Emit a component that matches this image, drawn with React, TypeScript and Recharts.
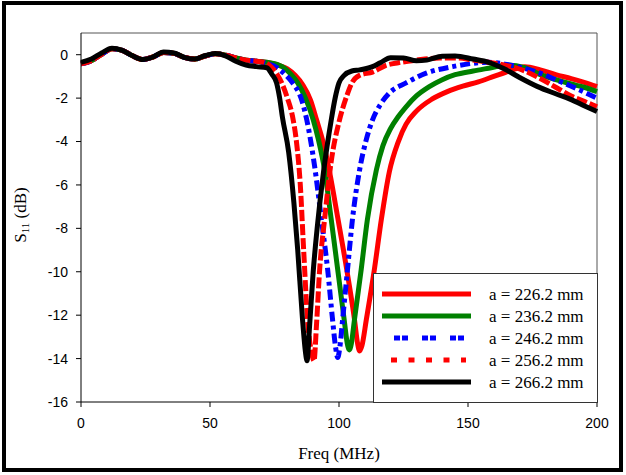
import React from "react";
import { LineChart, Line, XAxis, YAxis, ReferenceLine } from "recharts";

// shared low-frequency ripple (same for the first four curves)
const rippleFreq = [0, 4, 8, 12, 16, 20, 24, 28, 32, 36, 40, 44, 48, 52, 56, 60, 64];
const rippleS11 = [-0.42, -0.28, 0.02, 0.27, 0.2, -0.05, -0.22, -0.1, 0.1, 0.06, -0.12, -0.2, -0.06, 0.04, -0.02, -0.15, -0.25];

// a = 226.2 mm
const freq226 = [68, 72, 77, 80, 83, 86, 89, 91.3, 94, 96.5, 99.5, 103, 106, 107.2, 108, 108.9, 110.6, 113.7, 116.4, 119.5, 123, 126, 130, 136, 142, 148, 154, 160, 166, 172, 178, 184, 190, 195, 200];
const s11_226 = [-0.3, -0.36, -0.5, -0.65, -0.95, -1.4, -2.1, -3.0, -4.1, -5.5, -7.5, -9.9, -12.2, -13.3, -13.65, -13.4, -12.2, -9.9, -7.6, -5.4, -4.0, -3.2, -2.6, -2.05, -1.7, -1.45, -1.25, -1.0, -0.75, -0.55, -0.7, -0.92, -1.1, -1.27, -1.47];

// a = 236.2 mm
const freq236 = [68, 72, 76, 78, 81, 84, 87, 90, 92, 94.4, 97, 99.5, 102, 103.2, 104, 104.8, 106, 108.6, 111, 114.5, 117, 120, 123, 126, 130, 135, 140, 145, 152, 159, 165, 172, 178, 184, 190, 195, 200];
const s11_236 = [-0.3, -0.35, -0.45, -0.55, -0.85, -1.3, -2.0, -3.0, -3.9, -5.3, -7.6, -9.9, -12.2, -13.3, -13.6, -13.3, -12.2, -9.9, -7.6, -5.3, -4.2, -3.4, -2.85, -2.4, -1.9, -1.47, -1.15, -0.92, -0.75, -0.6, -0.47, -0.6, -0.92, -1.15, -1.35, -1.5, -1.7];

// a = 246.2 mm
const freq246 = [68, 72, 76, 79, 82, 85.5, 87.5, 90.5, 93.2, 95.6, 97.5, 98.7, 99.5, 100.3, 101.4, 103.3, 105.2, 108, 110.6, 113, 116, 119.5, 126, 133.8, 144, 151.6, 158, 165, 171, 178, 184, 190, 195, 200];
const s11_246 = [-0.3, -0.4, -0.6, -0.9, -1.3, -2.07, -3.0, -5.1, -7.6, -9.9, -12.2, -13.5, -13.95, -13.5, -12.2, -9.9, -7.6, -5.3, -3.9, -3.0, -2.3, -1.77, -1.3, -0.85, -0.55, -0.4, -0.35, -0.45, -0.6, -0.85, -1.15, -1.45, -1.72, -2.0];

// a = 256.2 mm
const freq256 = [68, 72, 74, 76, 78, 80, 82, 83.5, 85, 86.3, 87.8, 89.5, 90.3, 91.3, 92.5, 94.4, 97, 100, 103, 105, 108, 113, 118, 123, 130, 139, 146, 152, 158, 165, 172, 178, 184, 190, 195, 200];
const s11_256 = [-0.3, -0.4, -0.6, -0.9, -1.35, -2.0, -2.85, -4.0, -6.0, -9.0, -12.2, -13.8, -14.1, -12.4, -9.9, -7.6, -4.9, -3.1, -1.9, -1.3, -0.95, -0.8, -0.5, -0.37, -0.25, -0.15, -0.15, -0.25, -0.35, -0.5, -0.75, -1.1, -1.5, -1.9, -2.15, -2.4];

// a = 266.2 mm
const freq266 = [0, 4, 8, 12, 16, 20, 24, 28, 32, 36, 40, 44, 48, 52, 56, 60, 64, 68, 72, 74, 75.8, 77, 78.1, 80.5, 82.5, 84, 85.8, 87, 87.6, 88.6, 90, 91.7, 94, 97, 98.5, 100, 102, 105, 108, 113, 116, 120, 125, 130, 134, 140, 145, 152, 158, 164, 170, 177, 184, 190, 195, 200];
const s11_266 = [-0.35, -0.2, 0.08, 0.3, 0.2, -0.05, -0.22, -0.1, 0.12, 0.08, -0.12, -0.2, -0.05, 0.05, -0.05, -0.3, -0.48, -0.55, -0.6, -0.9, -1.3, -2.0, -2.9, -4.5, -6.8, -9.0, -12.1, -13.7, -14.1, -12.5, -10.0, -7.8, -5.4, -3.0, -2.0, -1.3, -0.95, -0.75, -0.7, -0.55, -0.37, -0.14, -0.15, -0.28, -0.25, -0.07, -0.06, -0.2, -0.35, -0.65, -1.05, -1.47, -1.8, -2.07, -2.35, -2.62];

const xTicks = [0, 50, 100, 150, 200];
const yTicks = [-16, -14, -12, -10, -8, -6, -4, -2, 0];
const legendLabels = ["a = 226.2 mm", "a = 236.2 mm", "a = 246.2 mm", "a = 256.2 mm", "a = 266.2 mm"];

const toPoints = (fs: number[], vs: number[]) => fs.map((f, i) => ({ f, v: vs[i] }));

const series = [
  { name: legendLabels[0], data: toPoints([...rippleFreq, ...freq226], [...rippleS11, ...s11_226]), color: "#ff0000", dash: undefined, legendDash: undefined },
  { name: legendLabels[1], data: toPoints([...rippleFreq, ...freq236], [...rippleS11, ...s11_236]), color: "#008000", dash: undefined, legendDash: undefined },
  { name: legendLabels[2], data: toPoints([...rippleFreq, ...freq246], [...rippleS11, ...s11_246]), color: "#0000ff", dash: "10 4 4 4", legendDash: "6 2 6 14" },
  { name: legendLabels[3], data: toPoints([...rippleFreq, ...freq256], [...rippleS11, ...s11_256]), color: "#ff0000", dash: "11 3", legendDash: "6 11.5" },
  { name: legendLabels[4], data: toPoints(freq266, s11_266), color: "#000000", dash: undefined, legendDash: undefined },
];

const tickStyle = { fontFamily: "'Liberation Sans', Arial, sans-serif", fontSize: 14, fill: "#000" };
const serif = "'Liberation Serif', 'Times New Roman', serif";

function ChartLegend() {
  return (
    <div
      style={{
        position: "absolute",
        left: 373,
        top: 273,
        width: 225,
        height: 130,
        border: "1px solid #333",
        boxSizing: "border-box",
        background: "#fff",
      }}
    >
      <svg width={223} height={128} style={{ position: "absolute", left: 0, top: 0 }}>
        {series.map((s, i) => {
          const y = 20 + i * 22;
          const x1 = s.legendDash === "6 2 6 14" ? 20 : s.legendDash ? 17 : 8;
          const x2 = s.legendDash ? 92 : 97;
          return (
            <g key={s.name}>
              <line x1={x1} x2={x2} y1={y} y2={y} stroke={s.color} strokeWidth={5} strokeDasharray={s.legendDash} />
              <text x={115} y={y + 6} fontFamily={serif} fontSize={17} fill="#000">
                {s.name}
              </text>
            </g>
          );
        })}
      </svg>
    </div>
  );
}

export default function App() {
  return (
    <div style={{ position: "absolute", left: 0, top: 0, width: 626, height: 475, background: "#fff" }}>
      <div
        style={{
          position: "absolute",
          left: 2,
          top: 1,
          width: 621,
          height: 471,
          border: "4px solid #000",
          boxSizing: "border-box",
        }}
      />
      <div style={{ position: "absolute", left: 0, top: 0 }}>
        <LineChart width={626} height={475} margin={{ top: 33, right: 29, left: 21, bottom: 13 }}>
          <XAxis
            type="number"
            dataKey="f"
            domain={[0, 200]}
            ticks={xTicks}
            interval={0}
            height={60}
            tickSize={5}
            tickMargin={11}
            stroke="#000"
            tick={tickStyle}
            label={{ value: "Freq (MHz)", position: "insideBottom", offset: 3, style: { fontFamily: serif, fontSize: 17, fill: "#000" } }}
          />
          <YAxis
            type="number"
            domain={[-16, 1]}
            ticks={yTicks}
            interval={0}
            width={60}
            tickSize={5}
            tickMargin={8}
            stroke="#000"
            tick={tickStyle}
          />
          <ReferenceLine y={1} stroke="#555" />
          <ReferenceLine x={200} stroke="#555" />
          {series.map((s) => (
            <Line
              key={s.name}
              data={s.data}
              dataKey="v"
              name={s.name}
              type="monotone"
              stroke={s.color}
              strokeWidth={5}
              strokeDasharray={s.dash}
              dot={false}
              isAnimationActive={false}
            />
          ))}
        </LineChart>
      </div>
      <svg width={626} height={475} style={{ position: "absolute", left: 0, top: 0, pointerEvents: "none" }}>
        <text transform="translate(26,215) rotate(-90)" textAnchor="middle" fontFamily={serif} fontSize={17} fill="#000">
          S
          <tspan fontSize={11} dy={3}>11</tspan>
          <tspan dy={-3}> (dB)</tspan>
        </text>
      </svg>
      <ChartLegend />
    </div>
  );
}
